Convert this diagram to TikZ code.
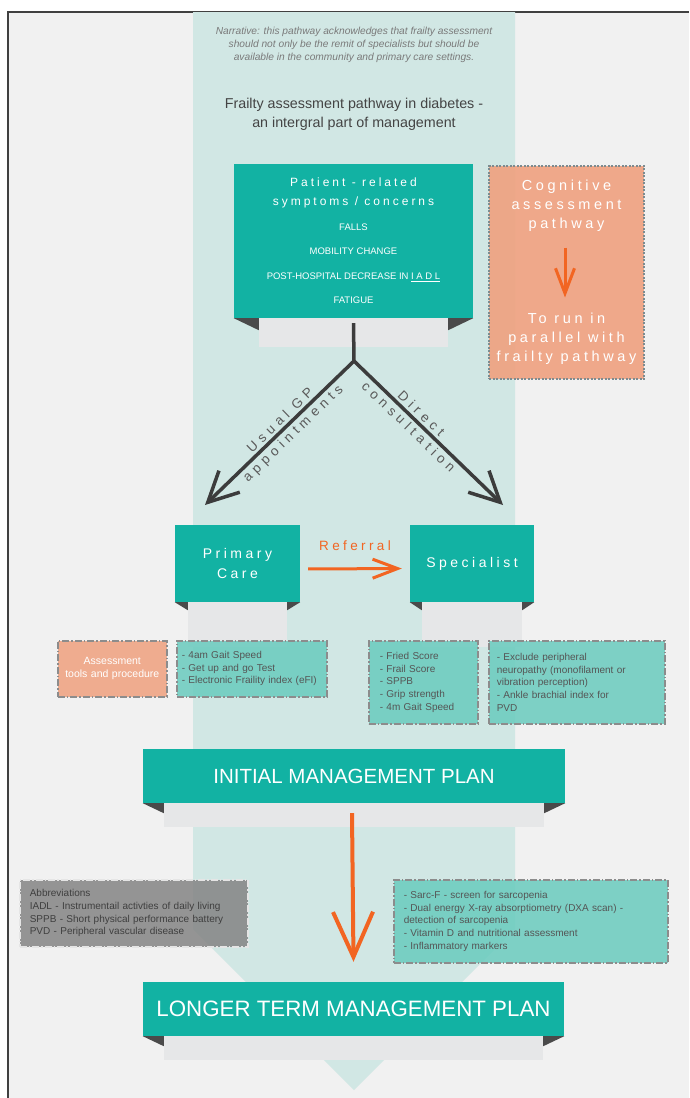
\documentclass[tikz,border=0pt]{standalone}
\usepackage{fontspec}
\setmainfont{Liberation Sans}
\newfontfamily\spaced[LetterSpace=25]{Liberation Sans}
\newfontfamily\widespaced[LetterSpace=35]{Liberation Sans}
\usetikzlibrary{arrows.meta}
\definecolor{teal1}{HTML}{12B2A3}
\definecolor{band}{HTML}{D1E7E4}
\definecolor{ribbon}{HTML}{E6E7E8}
\definecolor{fold}{HTML}{4A4A4A}
\definecolor{paper}{HTML}{F1F1F1}
\definecolor{peach}{HTML}{EFA17F}
\definecolor{accent}{HTML}{F26522}
\definecolor{mint}{HTML}{69CBBE}
\definecolor{ink}{HTML}{555555}
\definecolor{frame}{HTML}{8C8C8C}
\definecolor{stemgray}{HTML}{3C3C3C}
\definecolor{narr}{HTML}{7A7A7A}
\definecolor{titlegray}{HTML}{444444}
\definecolor{labelgray}{HTML}{5A5A5A}
\definecolor{abbrgray}{HTML}{848484}
\definecolor{abbrtext}{HTML}{3F3F3F}
\definecolor{cogborder}{HTML}{7D8B8F}

\begin{document}
\begin{tikzpicture}[x=1pt, y=-1pt,
	banner/.style={fill=teal1, text=white, align=center, inner sep=0pt},
	note/.style={draw=frame, line width=1.6pt, dash pattern=on 7pt off 2pt on 1.5pt off 2pt, fill=mint, fill opacity=.85, text opacity=1, text=ink, anchor=north west, align=left, inner ysep=0pt, font=\fontsize{10}{12.6}\selectfont},
	branch/.style={draw=stemgray, line width=3.5pt},
	pointer/.style={draw=accent, line width=3pt, -{Straight Barb[length=25pt,width=19pt]}},
	tag/.style={font=\widespaced\fontsize{13.5}{16}\selectfont, text=labelgray, inner sep=2.5pt}]
	\useasboundingbox (0,0) rectangle (689,1098);
	\fill [white] (0,0) rectangle (689,1098);
	\fill [paper] (8,12) rectangle (689,1098);
	\draw [line width=1.5pt, black!75] (8,1098) -- (8,12) -- (689,12);
	\fill [band] (193,12) -- (515,12) -- (515,929) -- (354,1090) -- (193,929) -- cycle;

	\node [font=\itshape\fontsize{10.2}{13}\selectfont, text=narr, align=center] (narrative) at (354,45) {Narrative: this pathway acknowledges that frailty assessment\\should not only be the remit of specialists but should be\\available in the community and primary care settings.};
	\node [font=\fontsize{14.3}{19}\selectfont, text=titlegray, align=center] (title) at (354,114.5) {Frailty assessment pathway in diabetes -\\an intergral part of management};

	\node [banner, minimum width=239pt, minimum height=154pt, font=\fontsize{9.5}{24.5}\selectfont] (patient) at (353.5,241) {{\spaced\fontsize{12}{14}\selectfont Patient - related}\\[-5.5pt]{\spaced\fontsize{12}{14}\selectfont symptoms / concerns}\\FALLS\\MOBILITY CHANGE\\POST-HOSPITAL DECREASE IN \underline{I A D L}\\FATIGUE};
	\node [fill=peach, fill opacity=.9, text opacity=1, text=white, draw=cogborder, line width=1.5pt, dash pattern=on 2pt off 1.5pt, align=center, minimum width=155pt, minimum height=213pt, font=\spaced\fontsize{14.5}{19}\selectfont] (cognitive) at (566.5,272.5) {Cognitive\\assessment\\pathway\\[76pt]To run in\\parallel with\\frailty pathway};
	\node [banner, minimum width=125pt, minimum height=77pt, font=\spaced\fontsize{14}{20}\selectfont] (primary) at (237.5,563.5) {Primary\\Care};
	\node [banner, minimum width=124pt, minimum height=77pt, font=\spaced\fontsize{14}{20}\selectfont] (specialist) at (472,563.5) {Specialist};
	\node [banner, minimum width=422pt, minimum height=54pt, font=\fontsize{20.5}{24}\selectfont] (initial) at (354,776) {INITIAL MANAGEMENT PLAN};
	\node [banner, minimum width=421pt, minimum height=54pt, font=\fontsize{22.3}{26}\selectfont] (longer) at (353.5,1009) {LONGER TERM MANAGEMENT PLAN};

	\foreach \n/\i/\d/\f in {patient/25/29/12, primary/13/45/8, specialist/12/45/8, initial/21/24/10, longer/21/24/10} {
		\fill [ribbon] ([xshift=\i pt]\n.south west) rectangle ([xshift=-\i pt, yshift=-\d pt]\n.south east);
		\fill [fold] (\n.south west) -- ([xshift=\i pt]\n.south west) -- ([xshift=\i pt, yshift=-\f pt]\n.south west) -- cycle;
		\fill [fold] (\n.south east) -- ([xshift=-\i pt]\n.south east) -- ([xshift=-\i pt, yshift=-\f pt]\n.south east) -- cycle;
	}

	\coordinate (split) at (354,361);
	\coordinate (gp) at (205,505);
	\coordinate (direct) at (503,505);
	\draw [branch] ([yshift=-5pt]patient.south) -- (split);
	\draw [branch, line join=miter, {Straight Barb[length=30pt,width=30pt]}-{Straight Barb[length=30pt,width=30pt]}] (gp) -- node[tag, sloped, above, pos=.545] {Usual GP} node[tag, sloped, below, pos=.545] {appointments} (split) -- node[tag, sloped, above, pos=.41] {Direct} node[tag, sloped, below, pos=.41] {consultation} (direct);
	\draw [pointer] ([xshift=-1.5pt, yshift=25pt]cognitive.center) -- ([xshift=-1.5pt, yshift=-25pt]cognitive.center);
	\draw [pointer, shorten <=8pt, shorten >=8pt] ([yshift=-5.5pt]primary.east) -- node[above=14pt, tag, text=accent, font=\spaced\fontsize{13.5}{16}\selectfont] {Referral} ([yshift=-5pt]specialist.west);

	\node [note, fill=peach, text=white, align=center, text width=99pt, inner xsep=5pt, minimum height=56pt, font=\fontsize{10.5}{13}\selectfont] (tools) at (57,640) {Assessment\\tools and procedure};
	\node [note, text width=140pt, inner xsep=5pt, minimum height=56pt] (gptests) at (176,640) {- 4am Gait Speed\\- Get up and go Test\\- Electronic Fraility index (eFI)};
	\node [note, text width=87pt, inner xsep=11pt, minimum height=83pt] (spectests) at (368,640) {- Fried Score\\- Frail Score\\- SPPB\\- Grip strength\\- 4m Gait Speed};
	\node [note, text width=160pt, inner xsep=8pt, minimum height=83pt] (vascular) at (488,640) {- Exclude peripheral\\neuropathy (monofilament or\\vibration perception)\\- Ankle brachial index for\\PVD};

	\draw [pointer, line width=4pt, -{Straight Barb[length=45pt,width=40pt]}] ([xshift=-2pt, yshift=-10pt]initial.south) -- ([yshift=20pt]longer.north);

	\node [note, fill=abbrgray, draw=white!80!gray, text=abbrtext, text width=208pt, inner xsep=10pt, minimum height=67pt] (abbrev) at (19,879) {Abbreviations\\IADL - Instrumentail activties of daily living\\SPPB - Short physical performance battery\\PVD - Peripheral vascular disease};
	\node [note, text width=254pt, inner xsep=10pt, minimum height=83pt] (sarcopenia) at (393,879) {- Sarc-F - screen for sarcopenia\\- Dual energy X-ray absorptiometry (DXA scan) -\\detection of sarcopenia\\- Vitamin D and nutritional assessment\\- Inflammatory markers};
\end{tikzpicture}
\end{document}
